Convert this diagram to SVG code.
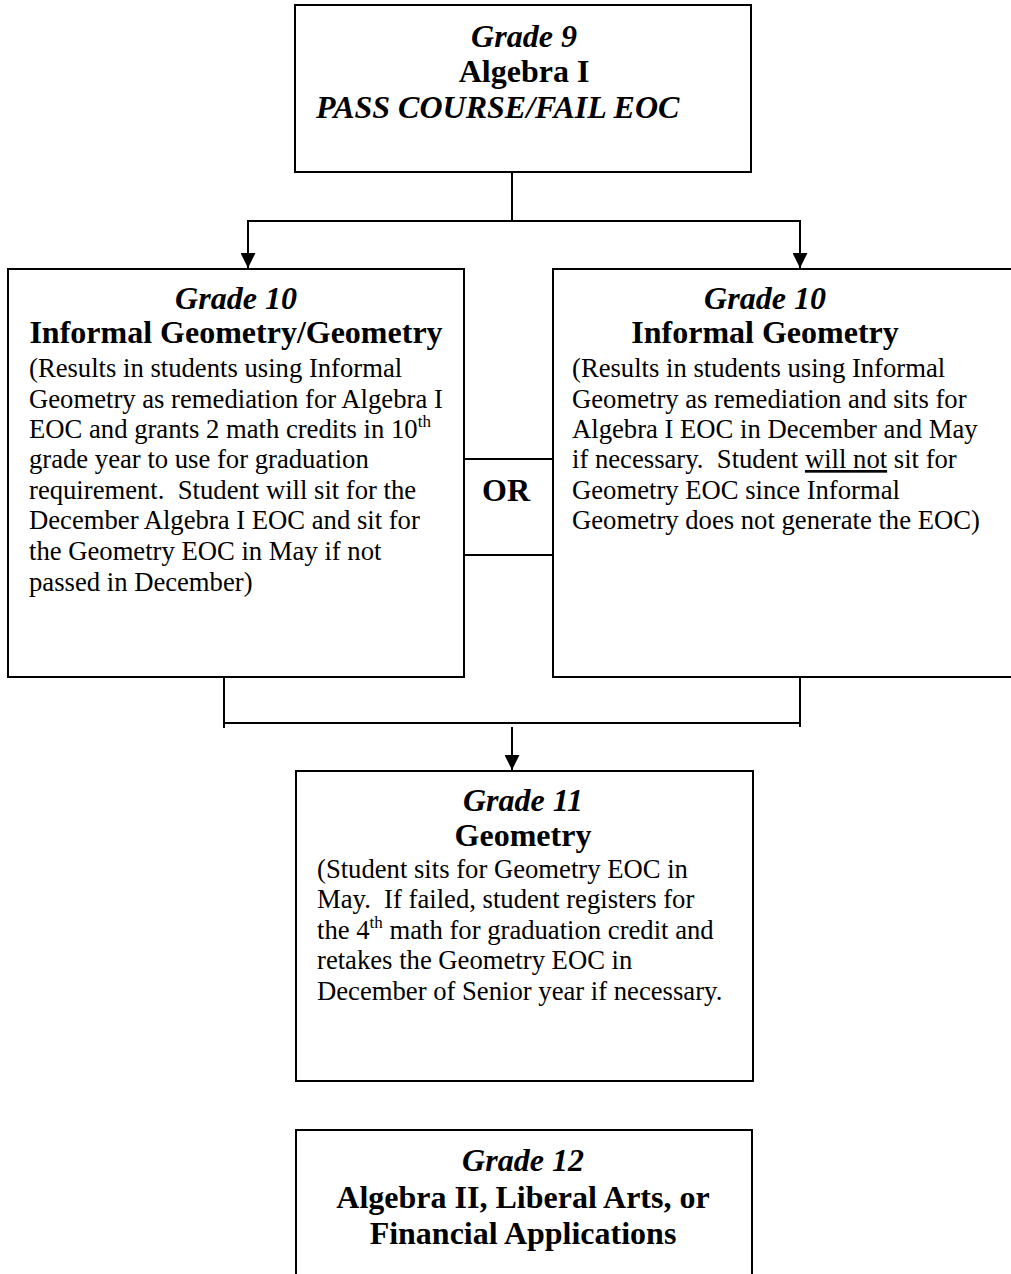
<svg xmlns="http://www.w3.org/2000/svg" width="1011" height="1274" viewBox="0 0 1011 1274">
<style>
  .box { fill: #fff; stroke: #000; stroke-width: 2; }
  .ln { fill: none; stroke: #000; stroke-width: 2; }
  text { font-family: "Liberation Serif", "Times New Roman", serif; fill: #000; white-space: pre; }
  .hi { font-size: 32px; font-weight: bold; font-style: italic; text-anchor: middle; }
  .hb { font-size: 32px; font-weight: bold; text-anchor: middle; }
  .body { font-size: 26.67px; }
  .sup { font-size: 17px; }
</style>
<defs>
  <marker id="ah" markerUnits="userSpaceOnUse" markerWidth="15" markerHeight="15" refX="15" refY="7.5" orient="auto">
    <path d="M0,0 L15,7.5 L0,15 z" fill="#000"/>
  </marker>
</defs>
<rect x="0" y="0" width="1011" height="1274" fill="#fff"/>

<g id="connectors">
  <path class="ln" d="M512,172 V221"/>
  <path class="ln" d="M247,221 H801"/>
  <path class="ln" d="M248,221 V268" marker-end="url(#ah)"/>
  <path class="ln" d="M800,221 V268" marker-end="url(#ah)"/>
  <path class="ln" d="M224,677 V728"/>
  <path class="ln" d="M800,677 V727"/>
  <path class="ln" d="M224,723 H800"/>
  <path class="ln" d="M512,727 V770" marker-end="url(#ah)"/>
</g>

<g id="grade9">
  <rect class="box" x="295" y="5" width="456" height="167"/>
  <text class="hi" x="524" y="47">Grade 9</text>
  <text class="hb" x="524" y="82">Algebra I</text>
  <text x="316" y="118" font-size="32" font-weight="bold" font-style="italic">PASS COURSE/FAIL EOC</text>
</g>

<g id="grade10-left">
  <rect class="box" x="8" y="269" width="456" height="408"/>
  <text class="hi" x="236" y="309">Grade 10</text>
  <text class="hb" x="236" y="343">Informal Geometry/Geometry</text>
  <text class="body" x="29" y="377">(Results in students using Informal</text>
  <text class="body" x="29" y="408">Geometry as remediation for Algebra I</text>
  <text class="body" x="29" y="438">EOC and grants 2 math credits in 10<tspan class="sup" dy="-11">th</tspan></text>
  <text class="body" x="29" y="468">grade year to use for graduation</text>
  <text class="body" x="29" y="499">requirement.  Student will sit for the</text>
  <text class="body" x="29" y="529">December Algebra I EOC and sit for</text>
  <text class="body" x="29" y="560">the Geometry EOC in May if not</text>
  <text class="body" x="29" y="591">passed in December)</text>
</g>

<g id="or">
  <rect class="box" x="464" y="459" width="89" height="96"/>
  <text class="hb" x="506" y="501">OR</text>
</g>

<g id="grade10-right">
  <rect class="box" x="553" y="269" width="470" height="408"/>
  <text class="hi" x="765" y="309">Grade 10</text>
  <text class="hb" x="765" y="343">Informal Geometry</text>
  <text class="body" x="572" y="377">(Results in students using Informal</text>
  <text class="body" x="572" y="408">Geometry as remediation and sits for</text>
  <text class="body" x="572" y="438">Algebra I EOC in December and May</text>
  <text class="body" x="572" y="468">if necessary.  Student <tspan text-decoration="underline">will not</tspan> sit for</text>
  <text class="body" x="572" y="499">Geometry EOC since Informal</text>
  <text class="body" x="572" y="529">Geometry does not generate the EOC)</text>
</g>

<g id="grade11">
  <rect class="box" x="296" y="771" width="457" height="310"/>
  <text class="hi" x="523" y="811">Grade 11</text>
  <text class="hb" x="523" y="846">Geometry</text>
  <text class="body" x="317" y="878">(Student sits for Geometry EOC in</text>
  <text class="body" x="317" y="908">May.  If failed, student registers for</text>
  <text class="body" x="317" y="939">the 4<tspan class="sup" dy="-11">th</tspan><tspan dy="11"> math for graduation credit and</tspan></text>
  <text class="body" x="317" y="969">retakes the Geometry EOC in</text>
  <text class="body" x="317" y="1000">December of Senior year if necessary.</text>
</g>

<g id="grade12">
  <rect class="box" x="296" y="1130" width="456" height="150"/>
  <text class="hi" x="523" y="1171">Grade 12</text>
  <text class="hb" x="523" y="1208">Algebra II, Liberal Arts, or</text>
  <text class="hb" x="523" y="1244">Financial Applications</text>
</g>
</svg>
